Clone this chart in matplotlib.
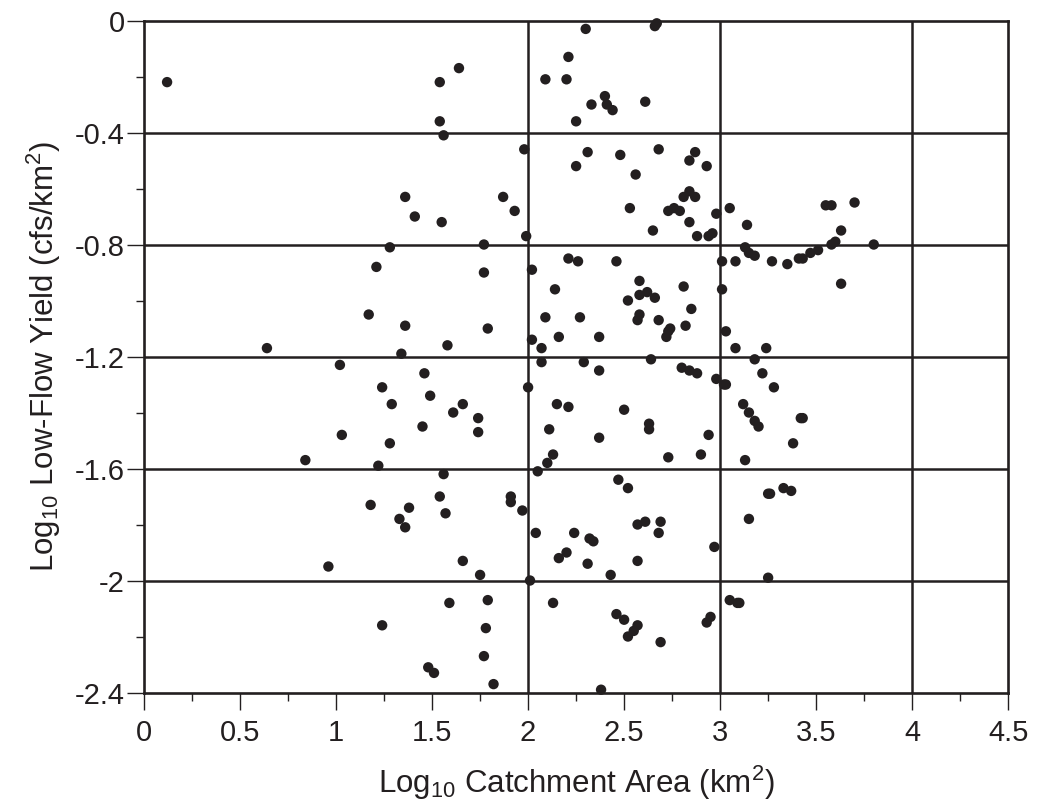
import matplotlib.pyplot as plt
import numpy as np

plt.rcParams['font.family'] = ['Liberation Sans', 'DejaVu Sans']
plt.rcParams['mathtext.fontset'] = 'custom'
plt.rcParams['mathtext.rm'] = 'Liberation Sans'
plt.rcParams['mathtext.it'] = 'Liberation Sans:italic'
plt.rcParams['mathtext.default'] = 'regular'

# log10 catchment area (km2) and log10 low-flow yield (cfs/km2)
log_area = [
    0.12, 1.36, 1.41, 1.28, 2.30, 2.67, 2.66, 2.21, 1.64, 1.54,
    2.09, 2.20, 2.40, 2.41, 2.44, 2.33, 2.61, 1.54, 2.25, 1.56,
    1.98, 2.31, 2.48, 2.68, 2.87, 2.84, 2.93, 2.25, 2.56, 1.87,
    1.93, 1.55, 2.84, 2.81, 2.87, 2.53, 2.73, 2.76, 2.79, 2.98,
    2.84, 2.65, 2.88, 2.94, 2.96, 1.99, 1.77, 3.05, 3.14, 3.13,
    3.55, 3.58, 3.70, 3.63, 3.60, 3.58, 3.80, 3.51, 3.47, 3.15,
    3.18, 3.01, 3.08, 3.27, 3.35, 3.41, 3.43, 3.63, 3.01, 3.03,
    3.08, 3.24, 3.18, 3.22, 2.98, 3.02, 3.03, 3.28, 3.12, 3.15,
    3.18, 3.20, 3.42, 3.43, 3.38, 3.13, 2.94, 1.77, 1.79, 1.58,
    2.02, 2.21, 2.26, 2.46, 2.14, 2.58, 2.58, 2.62, 2.66, 2.52,
    2.81, 2.85, 2.09, 2.27, 2.58, 2.57, 2.68, 2.74, 2.73, 2.72,
    2.82, 2.02, 2.07, 2.16, 2.37, 2.07, 2.29, 2.37, 2.64, 2.80,
    2.84, 2.88, 1.46, 1.49, 1.61, 1.66, 1.74, 1.74, 1.45, 2.00,
    2.15, 2.21, 2.50, 2.63, 2.63, 2.11, 2.37, 2.13, 2.10, 2.73,
    2.90, 2.05, 1.56, 2.47, 1.21, 1.17, 1.36, 0.64, 1.34, 1.02,
    1.24, 1.29, 1.03, 1.28, 0.84, 1.22, 1.18, 1.38, 1.33, 1.36,
    0.96, 1.24, 1.48, 2.52, 1.54, 1.57, 1.91, 1.91, 1.97, 2.04,
    2.24, 2.32, 2.34, 2.57, 2.61, 2.69, 2.68, 2.97, 1.66, 2.16,
    2.20, 2.31, 2.57, 1.75, 2.43, 2.01, 1.59, 1.79, 2.13, 2.46,
    2.50, 2.57, 2.55, 2.52, 2.69, 2.93, 2.95, 1.78, 1.77, 1.51,
    1.82, 2.38, 3.25, 3.26, 3.33, 3.37, 3.15, 3.25, 3.05, 3.09,
    3.10,
]
log_yield = [
    -0.22, -0.63, -0.70, -0.81, -0.03, -0.01, -0.02, -0.13, -0.17, -0.22,
    -0.21, -0.21, -0.27, -0.30, -0.32, -0.30, -0.29, -0.36, -0.36, -0.41,
    -0.46, -0.47, -0.48, -0.46, -0.47, -0.50, -0.52, -0.52, -0.55, -0.63,
    -0.68, -0.72, -0.61, -0.63, -0.63, -0.67, -0.68, -0.67, -0.68, -0.69,
    -0.72, -0.75, -0.77, -0.77, -0.76, -0.77, -0.80, -0.67, -0.73, -0.81,
    -0.66, -0.66, -0.65, -0.75, -0.79, -0.80, -0.80, -0.82, -0.83, -0.83,
    -0.84, -0.86, -0.86, -0.86, -0.87, -0.85, -0.85, -0.94, -0.96, -1.11,
    -1.17, -1.17, -1.21, -1.26, -1.28, -1.30, -1.30, -1.31, -1.37, -1.40,
    -1.43, -1.45, -1.42, -1.42, -1.51, -1.57, -1.48, -0.90, -1.10, -1.16,
    -0.89, -0.85, -0.86, -0.86, -0.96, -0.93, -0.98, -0.97, -0.99, -1.00,
    -0.95, -1.03, -1.06, -1.06, -1.05, -1.07, -1.07, -1.10, -1.11, -1.13,
    -1.09, -1.14, -1.17, -1.13, -1.13, -1.22, -1.22, -1.25, -1.21, -1.24,
    -1.25, -1.26, -1.26, -1.34, -1.40, -1.37, -1.42, -1.47, -1.45, -1.31,
    -1.37, -1.38, -1.39, -1.44, -1.46, -1.46, -1.49, -1.55, -1.58, -1.56,
    -1.55, -1.61, -1.62, -1.64, -0.88, -1.05, -1.09, -1.17, -1.19, -1.23,
    -1.31, -1.37, -1.48, -1.51, -1.57, -1.59, -1.73, -1.74, -1.78, -1.81,
    -1.95, -2.16, -2.31, -1.67, -1.70, -1.76, -1.70, -1.72, -1.75, -1.83,
    -1.83, -1.85, -1.86, -1.80, -1.79, -1.79, -1.83, -1.88, -1.93, -1.92,
    -1.90, -1.94, -1.93, -1.98, -1.98, -2.00, -2.08, -2.07, -2.08, -2.12,
    -2.14, -2.16, -2.18, -2.20, -2.22, -2.15, -2.13, -2.17, -2.27, -2.33,
    -2.37, -2.39, -1.69, -1.69, -1.67, -1.68, -1.78, -1.99, -2.07, -2.08,
    -2.08,
]

x_ticks = [0, 0.5, 1, 1.5, 2, 2.5, 3, 3.5, 4, 4.5]
x_tick_labels = ['0', '0.5', '1', '1.5', '2', '2.5', '3', '3.5', '4', '4.5']
y_ticks = [0, -0.4, -0.8, -1.2, -1.6, -2.0, -2.4]
y_tick_labels = ['0', '-0.4', '-0.8', '-1.2', '-1.6', '-2', '-2.4']
x_grid = [2, 3, 4]

ink = '#231f20'

fig = plt.figure(figsize=(10.37, 8.11), dpi=100)
ax = fig.add_axes([0.1389, 0.1461, 0.8333, 0.8286])

for yv in y_ticks[1:-1]:
    ax.axhline(yv, color=ink, lw=1.8, zorder=1)
for xv in x_grid:
    ax.axvline(xv, color=ink, lw=1.8, zorder=1)

ax.scatter(log_area, log_yield, s=56, color=ink, edgecolors='none',
           zorder=3, clip_on=False)

ax.set_xlim(0, 4.5)
ax.set_ylim(-2.4, 0)
ax.set_xticks(x_ticks)
ax.set_xticklabels(x_tick_labels)
ax.set_yticks(y_ticks)
ax.set_yticklabels(y_tick_labels)
ax.set_xticks(np.arange(0, 4.51, 0.25), minor=True)
ax.set_yticks(np.arange(-2.4, 0.01, 0.2), minor=True)

ax.tick_params(which='major', direction='out', length=12, width=1.0,
               color=ink, labelsize=21, labelcolor=ink)
ax.tick_params(which='minor', direction='out', length=6, width=1.0, color=ink)
ax.tick_params(axis='x', which='major', pad=7)
ax.tick_params(axis='y', which='major', pad=2)

for sp in ax.spines.values():
    sp.set_color(ink)
    sp.set_linewidth(1.9)

ax.set_xlabel('Log$_{10}$ Catchment Area (km$^{2}$)', fontsize=22.5,
              color=ink, labelpad=12)
ax.set_ylabel('Log$_{10}$ Low-Flow Yield (cfs/km$^{2}$)', fontsize=22.5,
              color=ink, labelpad=8)

fig.savefig('out.png', dpi=100, facecolor='white')
